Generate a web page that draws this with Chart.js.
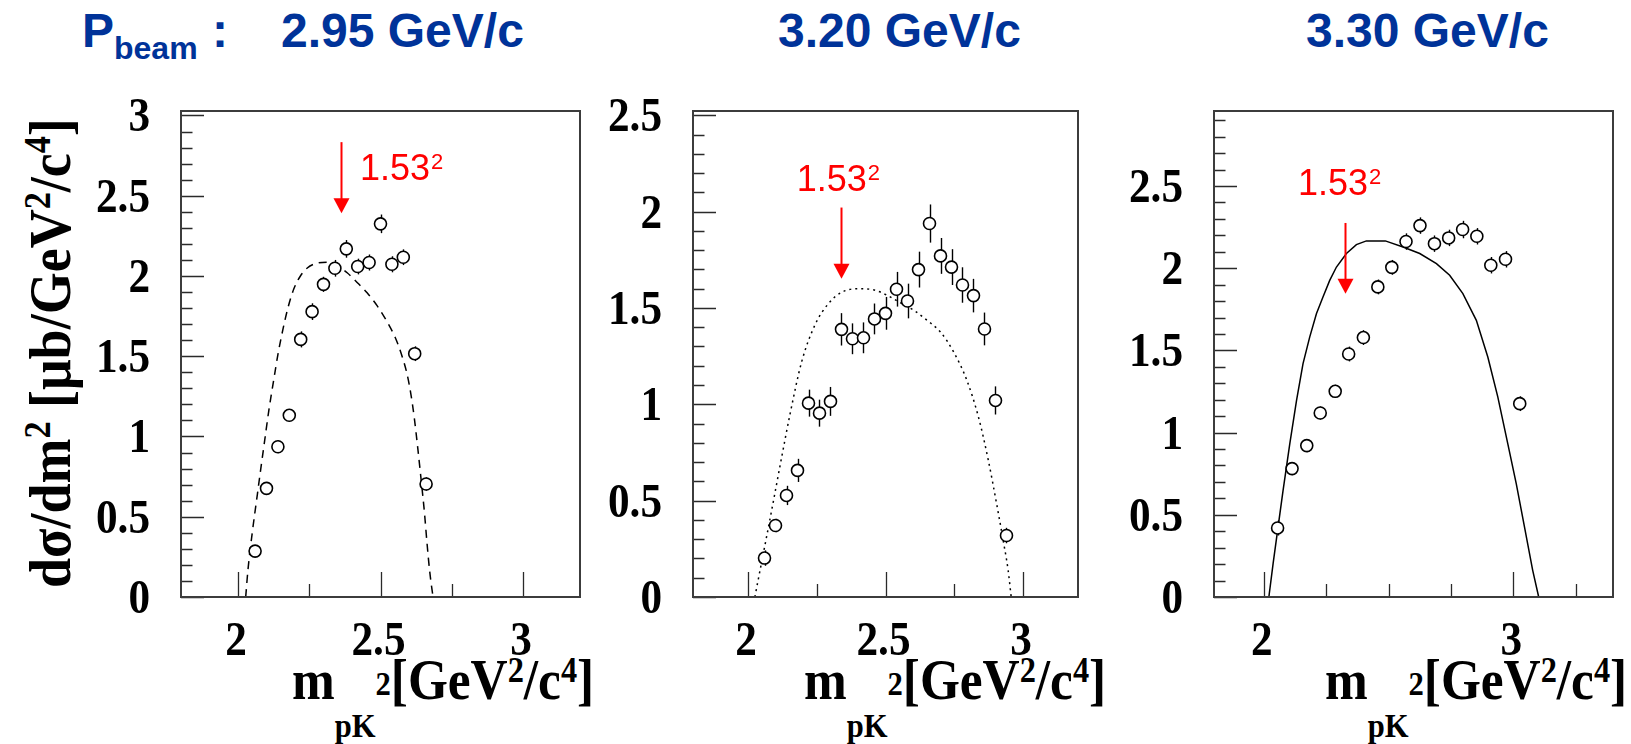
<!DOCTYPE html>
<html>
<head>
<meta charset="utf-8">
<title>dσ/dm² vs m_pK²</title>
<script src="https://cdn.jsdelivr.net/npm/chart.js@4.4.1/dist/chart.umd.min.js"></script>
<style>
  html, body { margin: 0; padding: 0; background: #fff; }
  #wrap { position: relative; width: 1631px; height: 744px; overflow: hidden; background: #fff; }
  canvas { position: absolute; }
  .beam { position: absolute; top: 7px; font: bold 48px "Liberation Sans", Arial, sans-serif; line-height: 48px; color: #003399; white-space: nowrap; }
  .beam .sub { font-size: 32px; position: relative; top: 12px; }
  .serif { font-family: "Liberation Serif", "Times New Roman", serif; font-weight: bold; color: #000; white-space: nowrap; }
  .xtitle { position: absolute; top: 651px; font-size: 57px; line-height: 57px; transform: scaleX(0.9); transform-origin: left top; }
  .xtitle .pk { font-size: 34px; position: relative; top: 38px; }
  .xtitle .s1 { font-size: 34px; position: relative; top: -4px; }
  .xtitle .s2 { font-size: 36px; position: relative; top: -17px; }
  .ytitle { position: absolute; left: 20px; top: 588px; font-size: 60px; line-height: 60px; transform: rotate(-90deg) scaleX(0.9); transform-origin: left top; }
  .ytitle .s2 { font-size: 38px; position: relative; top: -20px; }
</style>
</head>
<body>
<div id="wrap">
  <div class="beam" style="left:82px">P<span class="sub">beam</span></div>
  <div class="beam" style="left:212px">:</div>
  <div class="beam" style="left:281px">2.95 GeV/c</div>
  <div class="beam" style="left:778px">3.20 GeV/c</div>
  <div class="beam" style="left:1306px">3.30 GeV/c</div>

  <div class="serif ytitle">dσ/dm<span class="s2">2</span> [μb/GeV<span class="s2">2</span>/c<span class="s2">4</span>]</div>

  <div class="serif xtitle" style="left:292px">m<span class="pk">pK</span><span class="s1">2</span>[GeV<span class="s2">2</span>/c<span class="s2">4</span>]</div>
  <div class="serif xtitle" style="left:804px">m<span class="pk">pK</span><span class="s1">2</span>[GeV<span class="s2">2</span>/c<span class="s2">4</span>]</div>
  <div class="serif xtitle" style="left:1325px">m<span class="pk">pK</span><span class="s1">2</span>[GeV<span class="s2">2</span>/c<span class="s2">4</span>]</div>

  <canvas id="c1"></canvas>
  <canvas id="c2"></canvas>
  <canvas id="c3"></canvas>
</div>

<script>
// ---- data: P_beam = 2.95 GeV/c ----
const m2_295 = [2.06, 2.10, 2.14, 2.18, 2.22, 2.26, 2.30, 2.34, 2.38, 2.42, 2.46, 2.50, 2.54, 2.58, 2.62, 2.66];
const xs_295 = [0.286, 0.677, 0.936, 1.132, 1.605, 1.778, 1.948, 2.048, 2.169, 2.059, 2.084, 2.325, 2.073, 2.117, 1.516, 0.704];
const err_295 = [0.038, 0.04, 0.04, 0.039, 0.05, 0.052, 0.047, 0.052, 0.055, 0.049, 0.05, 0.058, 0.05, 0.049, 0.046, 0.042];
const psX_295 = [2.027, 2.035, 2.050, 2.068, 2.080, 2.094, 2.108, 2.126, 2.140, 2.158, 2.175, 2.196, 2.219, 2.243, 2.278, 2.313, 2.348, 2.383, 2.418, 2.453, 2.488, 2.523, 2.552, 2.572, 2.593, 2.607, 2.619, 2.630, 2.642, 2.654, 2.663, 2.672, 2.682, 2.685];
const psY_295 = [0, 0.17, 0.40, 0.64, 0.80, 0.98, 1.16, 1.36, 1.51, 1.67, 1.80, 1.92, 2.00, 2.05, 2.08, 2.085, 2.065, 2.02, 1.96, 1.895, 1.815, 1.715, 1.615, 1.52, 1.39, 1.26, 1.11, 0.94, 0.74, 0.53, 0.34, 0.17, 0.03, 0];

// ---- data: P_beam = 3.20 GeV/c ----
const m2_320 = [2.06, 2.10, 2.14, 2.18, 2.22, 2.26, 2.30, 2.34, 2.38, 2.42, 2.46, 2.50, 2.54, 2.58, 2.62, 2.66, 2.70, 2.74, 2.78, 2.82, 2.86, 2.90, 2.94];
const xs_320 = [0.202, 0.371, 0.527, 0.657, 1.006, 0.954, 1.015, 1.389, 1.340, 1.345, 1.443, 1.472, 1.597, 1.536, 1.699, 1.938, 1.770, 1.712, 1.619, 1.564, 1.391, 1.020, 0.319];
const err_320 = [0.04, 0.035, 0.05, 0.06, 0.07, 0.07, 0.075, 0.084, 0.08, 0.08, 0.08, 0.085, 0.09, 0.09, 0.093, 0.099, 0.093, 0.093, 0.092, 0.087, 0.085, 0.073, 0.04];
const psX_320 = [2.025, 2.044, 2.074, 2.098, 2.123, 2.153, 2.195, 2.243, 2.291, 2.339, 2.399, 2.459, 2.507, 2.555, 2.603, 2.651, 2.700, 2.748, 2.796, 2.838, 2.874, 2.904, 2.928, 2.946, 2.957];
const psY_320 = [0, 0.14, 0.36, 0.54, 0.73, 0.95, 1.22, 1.41, 1.52, 1.58, 1.60, 1.593, 1.565, 1.526, 1.488, 1.436, 1.375, 1.271, 1.124, 0.934, 0.709, 0.484, 0.293, 0.138, 0];

// ---- data: P_beam = 3.30 GeV/c ----
const m2_330 = [2.055, 2.113, 2.172, 2.226, 2.286, 2.340, 2.399, 2.457, 2.513, 2.570, 2.626, 2.684, 2.741, 2.797, 2.854, 2.910, 2.969, 3.026];
const xs_330 = [0.420, 0.781, 0.921, 1.119, 1.251, 1.478, 1.578, 1.886, 2.005, 2.162, 2.259, 2.149, 2.184, 2.235, 2.194, 2.018, 2.054, 1.176];
const err_330 = [0.046, 0.04, 0.04, 0.04, 0.04, 0.045, 0.045, 0.045, 0.045, 0.05, 0.05, 0.05, 0.05, 0.053, 0.05, 0.05, 0.05, 0.045];
const psX_330 = [2.020, 2.037, 2.057, 2.077, 2.104, 2.131, 2.157, 2.184, 2.211, 2.237, 2.264, 2.291, 2.331, 2.371, 2.411, 2.487, 2.558, 2.625, 2.692, 2.745, 2.798, 2.852, 2.898, 2.938, 2.978, 3.012, 3.045, 3.078, 3.102];
const psY_330 = [0, 0.203, 0.426, 0.649, 0.933, 1.196, 1.420, 1.582, 1.724, 1.825, 1.926, 2.007, 2.089, 2.143, 2.166, 2.166, 2.129, 2.089, 2.028, 1.957, 1.845, 1.683, 1.460, 1.217, 0.933, 0.690, 0.426, 0.162, 0];

// ---- axes ----
const yTicks_295 = [0, 0.5, 1, 1.5, 2, 2.5, 3];
const yTicks_320 = [0, 0.5, 1, 1.5, 2, 2.5];
const yTicks_330 = [0, 0.5, 1, 1.5, 2, 2.5];
const xTicks_295 = [2, 2.5, 3];
const xTicks_320 = [2, 2.5, 3];
const xTicks_330 = [2, 3];
const xMinor_295 = [2.25, 2.75];
const xMinor_320 = [2.25, 2.75];
const xMinor_330 = [2.25, 2.5, 2.75, 3.25];

// ---- 1.53^2 arrows (x, top, tip) and label anchor ----
const arrowX = [2.36, 2.337, 2.324];
const arrowTop = [2.834, 2.021, 2.275];
const arrowTip = [2.391, 1.652, 1.845];
const labelX = [2.428, 2.177, 2.137];
const labelY = [2.595, 2.105, 2.443];

function squeezedText(ctx, text, x, y, align, sx) {
    ctx.save();
    ctx.translate(x, y);
    ctx.scale(sx, 1);
    ctx.textAlign = align;
    ctx.fillText(text, 0, 0);
    ctx.restore();
}

const rootLook = {
    id: "rootLook",
    beforeDatasetsDraw(chart, args, o) {
        const { ctx, scales: { x, y } } = chart;
        const pts = chart.data.datasets[0].data;
        ctx.save();
        ctx.strokeStyle = "#000";
        ctx.lineWidth = 1.4;
        pts.forEach((p, i) => {
            const px = Math.round(x.getPixelForValue(p.x)) + 0.5;
            ctx.beginPath();
            ctx.moveTo(px, y.getPixelForValue(p.y - o.err[i]));
            ctx.lineTo(px, y.getPixelForValue(p.y + o.err[i]));
            ctx.stroke();
        });
        ctx.restore();
    },
    afterDraw(chart, args, o) {
        const { ctx, chartArea: a, scales: { x, y } } = chart;
        ctx.save();

        // inner ticks, ROOT style
        ctx.strokeStyle = "#2a2a2a";
        ctx.lineWidth = 1.3;
        ctx.beginPath();
        for (let v = 0; v <= y.max + 1e-9; v += 0.1) {
            const vv = Math.round(v * 10) / 10;
            const major = o.yTicks.some(t => Math.abs(t - vv) < 1e-6);
            const py = Math.round(y.getPixelForValue(vv)) + 0.5;
            ctx.moveTo(a.left, py);
            ctx.lineTo(a.left + (major ? 23 : 11.5), py);
        }
        o.xTicks.forEach(v => {
            const px = Math.round(x.getPixelForValue(v)) + 0.5;
            ctx.moveTo(px, a.bottom);
            ctx.lineTo(px, a.bottom - 25);
        });
        o.xMinor.forEach(v => {
            const px = Math.round(x.getPixelForValue(v)) + 0.5;
            ctx.moveTo(px, a.bottom);
            ctx.lineTo(px, a.bottom - 13);
        });
        ctx.stroke();

        // frame
        ctx.strokeStyle = "#3c3c3c";
        ctx.lineWidth = 2;
        ctx.strokeRect(a.left, a.top, a.right - a.left, a.bottom - a.top);

        // tick labels
        ctx.fillStyle = "#000";
        ctx.font = 'bold 48px "Liberation Serif", "Times New Roman", serif';
        ctx.textBaseline = "alphabetic";
        o.yTicks.forEach(v => squeezedText(ctx, String(v), a.left - 31, y.getPixelForValue(v) + 16, "right", 0.9));
        o.xTicks.forEach(v => squeezedText(ctx, String(v), x.getPixelForValue(v) - 2, a.bottom + 58, "center", 0.9));

        // red arrow at 1.53^2
        const ax = Math.round(x.getPixelForValue(o.arrow.x)) + 0.5;
        const at = y.getPixelForValue(o.arrow.top);
        const tip = y.getPixelForValue(o.arrow.tip);
        ctx.strokeStyle = "#ff0000";
        ctx.fillStyle = "#ff0000";
        ctx.lineWidth = 2;
        ctx.beginPath();
        ctx.moveTo(ax, at);
        ctx.lineTo(ax, tip - 14);
        ctx.stroke();
        ctx.beginPath();
        ctx.moveTo(ax - 8, tip - 15);
        ctx.lineTo(ax + 8, tip - 15);
        ctx.lineTo(ax, tip);
        ctx.closePath();
        ctx.fill();

        // label 1.53^2
        const lx = x.getPixelForValue(o.label.x);
        const ly = y.getPixelForValue(o.label.y);
        ctx.textAlign = "left";
        ctx.font = '36px "Liberation Sans", Arial, sans-serif';
        ctx.fillText("1.53", lx, ly);
        const w = ctx.measureText("1.53").width;
        ctx.font = '22px "Liberation Sans", Arial, sans-serif';
        ctx.fillText("2", lx + w + 1, ly - 11);

        ctx.restore();
    }
};

function zip(xs, ys) {
    return xs.map((v, i) => ({ x: v, y: ys[i] }));
}

// frame rectangles in page pixels (layout only)
const frames = [
    { left: 181, top: 111, right: 580, bottom: 597 },
    { left: 693, top: 111, right: 1078, bottom: 597 },
    { left: 1214, top: 111, right: 1613, bottom: 597 }
];

function makePanel(id, frame, cfg) {
    const canvas = document.getElementById(id);
    const cLeft = frame.left - 110, cTop = 80;
    const cW = frame.right - frame.left + 130, cH = 600;
    canvas.width = cW;
    canvas.height = cH;
    canvas.style.left = cLeft + "px";
    canvas.style.top = cTop + "px";
    canvas.style.width = cW + "px";
    canvas.style.height = cH + "px";

    return new Chart(canvas.getContext("2d"), {
        type: "scatter",
        data: {
            datasets: [
                {
                    label: "data",
                    data: zip(cfg.m2, cfg.xs),
                    pointStyle: "circle",
                    pointRadius: 6,
                    pointBorderWidth: 1.6,
                    pointBorderColor: "#000",
                    pointBackgroundColor: "#fff",
                    showLine: false
                },
                {
                    label: "phase space",
                    data: zip(cfg.psX, cfg.psY),
                    showLine: true,
                    borderColor: "#000",
                    borderWidth: 1.5,
                    borderDash: cfg.dash,
                    pointRadius: 0,
                    cubicInterpolationMode: cfg.smooth ? "monotone" : "default",
                    tension: 0,
                    fill: false
                }
            ]
        },
        options: {
            responsive: false,
            animation: false,
            devicePixelRatio: 1,
            layout: {
                padding: {
                    left: frame.left - cLeft,
                    top: frame.top - cTop,
                    right: cLeft + cW - frame.right,
                    bottom: cTop + cH - frame.bottom
                }
            },
            scales: {
                x: { type: "linear", min: cfg.xMin, max: cfg.xMax, display: false },
                y: { type: "linear", min: 0, max: cfg.yMax, display: false }
            },
            plugins: {
                legend: { display: false },
                tooltip: { enabled: false },
                rootLook: {
                    err: cfg.err,
                    yTicks: cfg.yTicks,
                    xTicks: cfg.xTicks,
                    xMinor: cfg.xMinor,
                    arrow: cfg.arrow,
                    label: cfg.label
                }
            }
        },
        plugins: [rootLook]
    });
}

makePanel("c1", frames[0], {
    m2: m2_295, xs: xs_295, err: err_295, psX: psX_295, psY: psY_295,
    dash: [8, 6], smooth: true, xMin: 1.8, xMax: 3.2, yMax: 3.028,
    yTicks: yTicks_295, xTicks: xTicks_295, xMinor: xMinor_295,
    arrow: { x: arrowX[0], top: arrowTop[0], tip: arrowTip[0] },
    label: { x: labelX[0], y: labelY[0] }
});

makePanel("c2", frames[1], {
    m2: m2_320, xs: xs_320, err: err_320, psX: psX_320, psY: psY_320,
    dash: [2, 4], smooth: true, xMin: 1.8, xMax: 3.2, yMax: 2.522,
    yTicks: yTicks_320, xTicks: xTicks_320, xMinor: xMinor_320,
    arrow: { x: arrowX[1], top: arrowTop[1], tip: arrowTip[1] },
    label: { x: labelX[1], y: labelY[1] }
});

makePanel("c3", frames[2], {
    m2: m2_330, xs: xs_330, err: err_330, psX: psX_330, psY: psY_330,
    dash: [], smooth: false, xMin: 1.8, xMax: 3.4, yMax: 2.956,
    yTicks: yTicks_330, xTicks: xTicks_330, xMinor: xMinor_330,
    arrow: { x: arrowX[2], top: arrowTop[2], tip: arrowTip[2] },
    label: { x: labelX[2], y: labelY[2] }
});
</script>
</body>
</html>
